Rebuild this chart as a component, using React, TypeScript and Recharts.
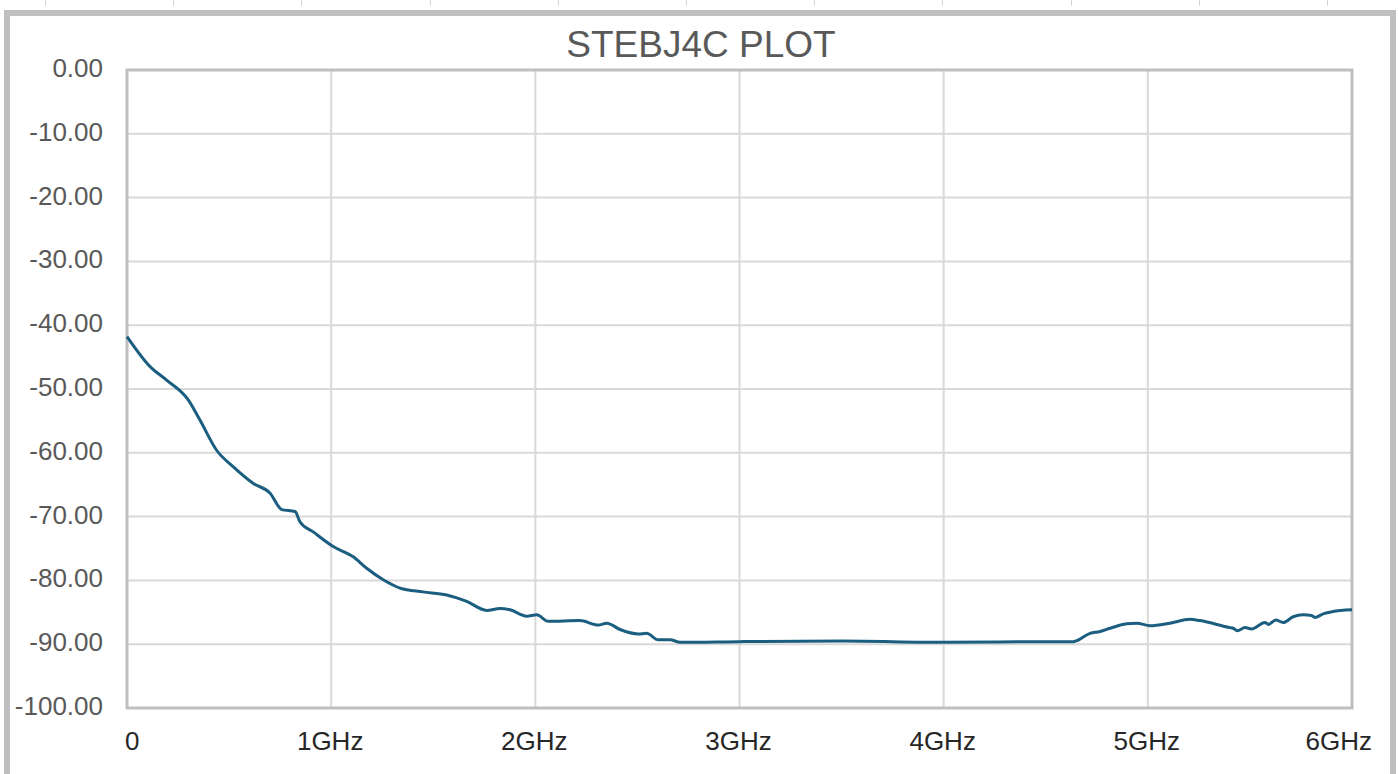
import React from "react";
import { LineChart, Line, XAxis, YAxis, CartesianGrid, ReferenceArea } from "recharts";

const chartTitle = "STEBJ4C PLOT";
const freqGHz = [
  0, 0.113, 0.194, 0.3, 0.358, 0.439, 0.521, 0.619, 0.7, 0.758, 0.823, 0.847, 0.912, 1.01, 1.108, 1.174,
  1.255, 1.337, 1.45, 1.566, 1.664, 1.762, 1.827, 1.876, 1.958, 2.007, 2.063, 2.219, 2.308, 2.35, 2.415,
  2.504, 2.545, 2.602, 2.66, 2.709, 3.0, 3.5, 4.0, 4.5, 4.635, 4.717, 4.766, 4.815, 4.896, 4.945, 5.011,
  5.108, 5.206, 5.255, 5.402, 5.418, 5.438, 5.476, 5.508, 5.574, 5.59, 5.627, 5.663, 5.712, 5.761, 5.802,
  5.817, 5.862, 5.902, 6.0,
];
const lossDb = [
  -41.8, -46.5, -48.6, -51.7, -54.9, -59.6, -62.2, -64.8, -66.3, -68.9, -69.2, -70.8, -72.4, -74.7, -76.3, -78.1,
  -79.9, -81.2, -81.8, -82.3, -83.3, -84.7, -84.4, -84.6, -85.6, -85.4, -86.4, -86.3, -87.0, -86.7, -87.7,
  -88.4, -88.3, -89.3, -89.3, -89.7, -89.6, -89.5, -89.7, -89.6, -89.6, -88.3, -88.0, -87.5, -86.8, -86.7, -87.1,
  -86.7, -86.1, -86.3, -87.4, -87.5, -87.9, -87.4, -87.6, -86.6, -86.9, -86.2, -86.6, -85.7, -85.4, -85.5,
  -85.8, -85.2, -84.9, -84.6,
];
const xTicks = [0, 1, 2, 3, 4, 5, 6];
const xTickLabels = ["0", "1GHz", "2GHz", "3GHz", "4GHz", "5GHz", "6GHz"];
const yTicks = [-100, -90, -80, -70, -60, -50, -40, -30, -20, -10, 0];

const data = freqGHz.map((f, i) => ({ f, db: lossDb[i] }));

const FONT = "'Liberation Sans', Arial, sans-serif";

const XTick = (props: any) => {
  const { x, y, payload } = props;
  const idx = xTicks.indexOf(payload.value);
  const label = xTickLabels[idx] ?? String(payload.value);
  let anchor: "start" | "middle" | "end" = "middle";
  let tx = x - 1;
  if (idx === 0) {
    anchor = "start";
    tx = x - 2;
  } else if (idx === xTicks.length - 1) {
    anchor = "end";
    tx = x + 20;
  }
  return (
    <text x={tx} y={y + 41.5} textAnchor={anchor} fontSize={26} fill="#262626" fontFamily={FONT}>
      {label}
    </text>
  );
};

const YTick = (props: any) => {
  const { x, y, payload } = props;
  return (
    <text x={x - 24} y={y + 7} textAnchor="end" fontSize={26} fill="#595959" fontFamily={FONT}>
      {Number(payload.value).toFixed(2)}
    </text>
  );
};

const topMarks = [45, 173, 301, 430, 558, 686, 814, 942, 1071, 1199, 1327];

export default function App() {
  return (
    <div
      style={{
        position: "absolute",
        left: 0,
        top: 0,
        width: 1398,
        height: 774,
        overflow: "hidden",
        background: "#ffffff",
      }}
    >
      {topMarks.map((mx) => (
        <div
          key={mx}
          style={{ position: "absolute", left: mx, top: 0, width: 1, height: 6, background: "#d4d4d4" }}
        />
      ))}
      <div
        style={{
          position: "absolute",
          left: 4,
          top: 10,
          width: 1392,
          height: 820,
          boxSizing: "border-box",
          border: "6px solid #bfbfbf",
          background: "#ffffff",
        }}
      />
      <div style={{ position: "absolute", left: 0, top: 0 }}>
        <LineChart
          width={1398}
          height={774}
          data={data}
          margin={{ top: 70, right: 46, bottom: 26, left: 27 }}
        >
          <CartesianGrid stroke="#d9d9d9" strokeWidth={2} />
          <XAxis
            dataKey="f"
            type="number"
            domain={[0, 6]}
            ticks={xTicks}
            tick={<XTick />}
            tickLine={false}
            axisLine={false}
            tickSize={0}
            tickMargin={0}
            height={40}
            interval={0}
          />
          <YAxis
            type="number"
            domain={[-100, 0]}
            ticks={yTicks}
            tick={<YTick />}
            tickLine={false}
            axisLine={false}
            tickSize={0}
            tickMargin={0}
            width={100}
            interval={0}
          />
          <ReferenceArea
            x1={0}
            x2={6}
            y1={-100}
            y2={0}
            fill="none"
            fillOpacity={0}
            stroke="#bfbfbf"
            strokeWidth={3}
          />
          <Line
            type="monotone"
            dataKey="db"
            stroke="#1b5e80"
            strokeWidth={3}
            dot={false}
            activeDot={false}
            isAnimationActive={false}
          />
        </LineChart>
      </div>
      <svg
        width={1398}
        height={80}
        style={{ position: "absolute", left: 0, top: 0, pointerEvents: "none" }}
      >
        <text x={701} y={56.5} textAnchor="middle" fontSize={37} fill="#595959" fontFamily={FONT}>
          {chartTitle}
        </text>
      </svg>
    </div>
  );
}
